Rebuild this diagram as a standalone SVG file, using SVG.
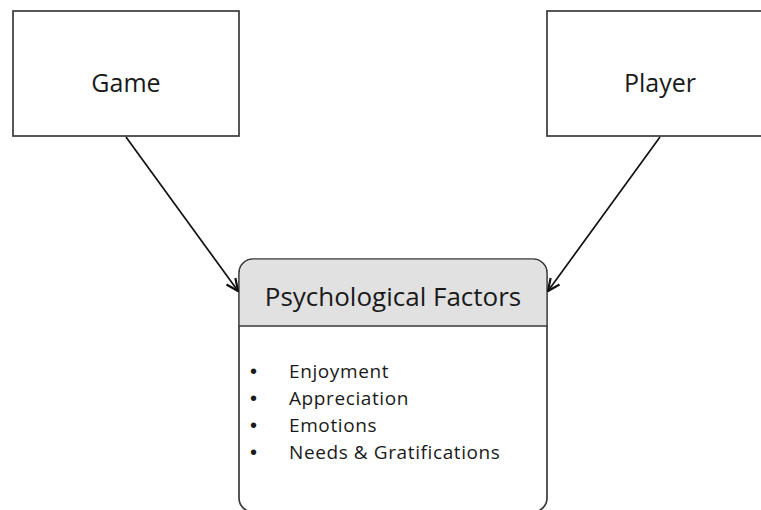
<svg xmlns="http://www.w3.org/2000/svg" width="761" height="510" viewBox="0 0 761 510">
<style>
.box{fill:#fff;stroke:#3a3a3a;stroke-width:1.7}
.t{font-family:"Open Sans","Liberation Sans",sans-serif;fill:#1a1a1a}
.title{font-size:25px;text-anchor:middle}
.item{font-size:19px;letter-spacing:0.6px}
.bul{font-family:"Liberation Sans",sans-serif;font-size:20px;fill:#1a1a1a}
.conn{stroke:#111;stroke-width:1.7;fill:none}
</style>
<defs>
<marker id="arr" viewBox="0 0 14 14" refX="13" refY="7" markerWidth="14" markerHeight="14" markerUnits="userSpaceOnUse" orient="auto">
<path d="M1,1.5 L13,7 L1,12.5" fill="none" stroke="#111" stroke-width="2.2"/>
</marker>
</defs>
<rect width="761" height="510" fill="#fff"/>
<g id="game">
<rect class="box" x="13" y="11" width="226" height="125"/>
<text class="t title" x="126" y="92">Game</text>
</g>
<g id="player">
<rect class="box" x="547" y="11" width="230" height="125"/>
<text class="t title" x="660" y="92">Player</text>
</g>
<g id="psych">
<rect class="box" x="239" y="259" width="308" height="253" rx="14"/>
<path d="M239.8,326 V273 A13.2,13.2 0 0 1 253,259.8 H533 A13.2,13.2 0 0 1 546.2,273 V326 Z" fill="#e1e1e1"/>
<line x1="239" y1="326" x2="547" y2="326" stroke="#3a3a3a" stroke-width="1.7"/>
<text class="t" x="393" y="306" font-size="26" text-anchor="middle">Psychological Factors</text>
<g class="bul">
<text x="250" y="378">•</text>
<text x="250" y="405">•</text>
<text x="250" y="432">•</text>
<text x="250" y="459">•</text>
</g>
<g class="t item">
<text x="289" y="378">Enjoyment</text>
<text x="289" y="405">Appreciation</text>
<text x="289" y="432">Emotions</text>
<text x="289" y="459">Needs &amp; Gratifications</text>
</g>
</g>
<g id="connectors">
<line class="conn" x1="126" y1="137" x2="238" y2="291" marker-end="url(#arr)"/>
<line class="conn" x1="660" y1="137" x2="548" y2="291" marker-end="url(#arr)"/>
</g>
</svg>
